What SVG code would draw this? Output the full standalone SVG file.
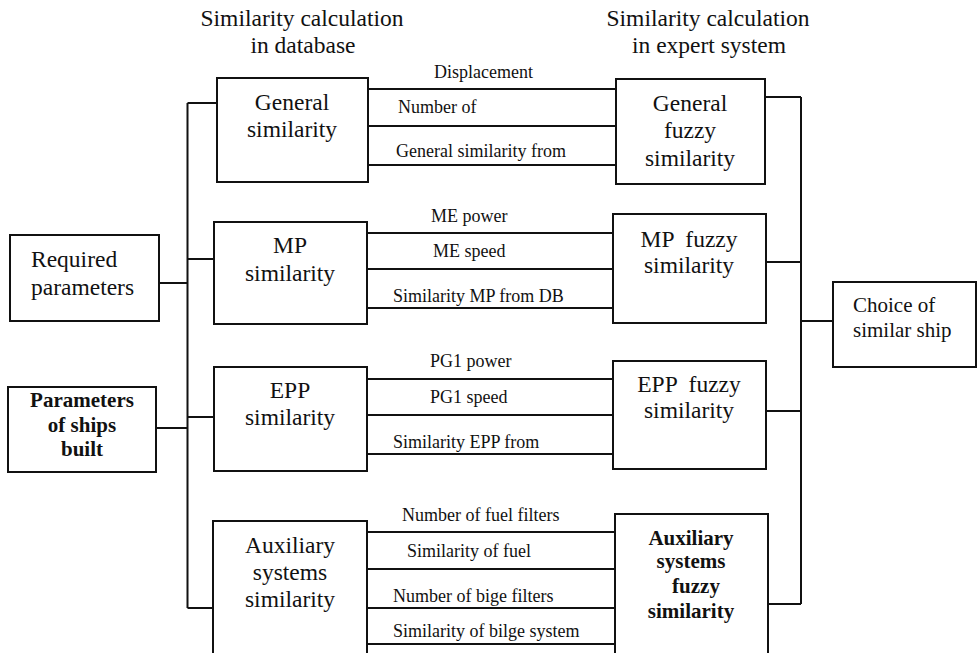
<svg xmlns="http://www.w3.org/2000/svg" width="978" height="653" viewBox="0 0 978 653">
<style>
  .box { fill: #fff; stroke: #111; stroke-width: 2; }
  .ln { stroke: #111; stroke-width: 2; fill: none; }
  .t { font-family: "Liberation Serif", "Times New Roman", serif; fill: #111; }
  .big { font-size: 23.5px; }
  .bold { font-size: 21px; font-weight: bold; }
  .lab { font-size: 18px; }
  .mid { text-anchor: middle; }
</style>
<rect width="978" height="653" fill="#fff"/>

<g id="headers">
  <text class="t big mid" x="302" y="26">Similarity calculation</text>
  <text class="t big mid" x="303" y="53">in database</text>
  <text class="t big mid" x="708" y="26">Similarity calculation</text>
  <text class="t big mid" x="709" y="53">in expert system</text>
</g>

<g id="connectors">
  <!-- left bus -->
  <path class="ln" d="M187.5,103 V608"/>
  <path class="ln" d="M187.5,103 H217 M187.5,259 H214 M187.5,417 H214 M187.5,608 H213"/>
  <path class="ln" d="M159,283 H187.5 M156,428 H187.5"/>
  <!-- right bus -->
  <path class="ln" d="M801,97 V604"/>
  <path class="ln" d="M765,97 H801 M766,262 H801 M766,411 H801 M768,604 H801"/>
  <path class="ln" d="M801,321 H833"/>
  <!-- middle lines -->
  <path class="ln" d="M367,89 H616 M367,126 H616 M367,165 H616"/>
  <path class="ln" d="M367,233 H613 M367,269 H613 M367,308 H616"/>
  <path class="ln" d="M367,379 H613 M367,415 H613 M367,454 H616"/>
  <path class="ln" d="M367,532 H615 M367,569 H615 M367,608 H617 M367,644 H615"/>
</g>

<g id="labels">
  <text class="t lab" x="434" y="78">Displacement</text>
  <text class="t lab" x="398" y="113">Number of</text>
  <text class="t lab" x="396" y="157">General similarity from</text>
  <text class="t lab" x="431" y="222">ME power</text>
  <text class="t lab" x="433" y="257">ME speed</text>
  <text class="t lab" x="393" y="302">Similarity MP from DB</text>
  <text class="t lab" x="430" y="367">PG1 power</text>
  <text class="t lab" x="430" y="403">PG1 speed</text>
  <text class="t lab" x="393" y="448">Similarity EPP from</text>
  <text class="t lab" x="402" y="521">Number of fuel filters</text>
  <text class="t lab" x="407" y="557">Similarity of fuel</text>
  <text class="t lab" x="393" y="602">Number of bige filters</text>
  <text class="t lab" x="393" y="637">Similarity of bilge system</text>
</g>

<g id="required">
  <rect class="box" x="10" y="235" width="149" height="86"/>
  <text class="t big" x="31" y="267">Required</text>
  <text class="t big" x="31" y="295">parameters</text>
</g>

<g id="parameters">
  <rect class="box" x="8" y="387" width="148" height="85"/>
  <text class="t bold mid" x="82" y="407">Parameters</text>
  <text class="t bold mid" x="82" y="432">of ships</text>
  <text class="t bold mid" x="82" y="456">built</text>
</g>

<g id="general-sim">
  <rect class="box" x="217" y="78" width="151" height="104"/>
  <text class="t big mid" x="292" y="110">General</text>
  <text class="t big mid" x="292" y="137">similarity</text>
</g>

<g id="mp-sim">
  <rect class="box" x="214" y="222" width="153" height="102"/>
  <text class="t big mid" x="290" y="253">MP</text>
  <text class="t big mid" x="290" y="281">similarity</text>
</g>

<g id="epp-sim">
  <rect class="box" x="214" y="367" width="153" height="104"/>
  <text class="t big mid" x="290" y="398">EPP</text>
  <text class="t big mid" x="290" y="425">similarity</text>
</g>

<g id="aux-sim">
  <rect class="box" x="213" y="521" width="154" height="145"/>
  <text class="t big mid" x="290" y="553">Auxiliary</text>
  <text class="t big mid" x="290" y="580">systems</text>
  <text class="t big mid" x="290" y="607">similarity</text>
</g>

<g id="general-fuzzy">
  <rect class="box" x="616" y="79" width="149" height="105"/>
  <text class="t big mid" x="690" y="111">General</text>
  <text class="t big mid" x="690" y="138">fuzzy</text>
  <text class="t big mid" x="690" y="166">similarity</text>
</g>

<g id="mp-fuzzy">
  <rect class="box" x="613" y="214" width="153" height="109"/>
  <text class="t big mid" x="689" y="247" xml:space="preserve">MP  fuzzy</text>
  <text class="t big mid" x="689" y="273">similarity</text>
</g>

<g id="epp-fuzzy">
  <rect class="box" x="613" y="361" width="153" height="108"/>
  <text class="t big mid" x="689" y="392" xml:space="preserve">EPP  fuzzy</text>
  <text class="t big mid" x="689" y="418">similarity</text>
</g>

<g id="aux-fuzzy">
  <rect class="box" x="615" y="514" width="153" height="150"/>
  <text class="t bold mid" x="691" y="545">Auxiliary</text>
  <text class="t bold mid" x="691" y="568">systems</text>
  <text class="t bold mid" x="696" y="593">fuzzy</text>
  <text class="t bold mid" x="691" y="618">similarity</text>
</g>

<g id="choice">
  <rect class="box" x="833" y="282" width="143" height="85"/>
  <text class="t" style="font-size:21px" x="853" y="312">Choice of</text>
  <text class="t" style="font-size:21px" x="853" y="337">similar ship</text>
</g>
</svg>
